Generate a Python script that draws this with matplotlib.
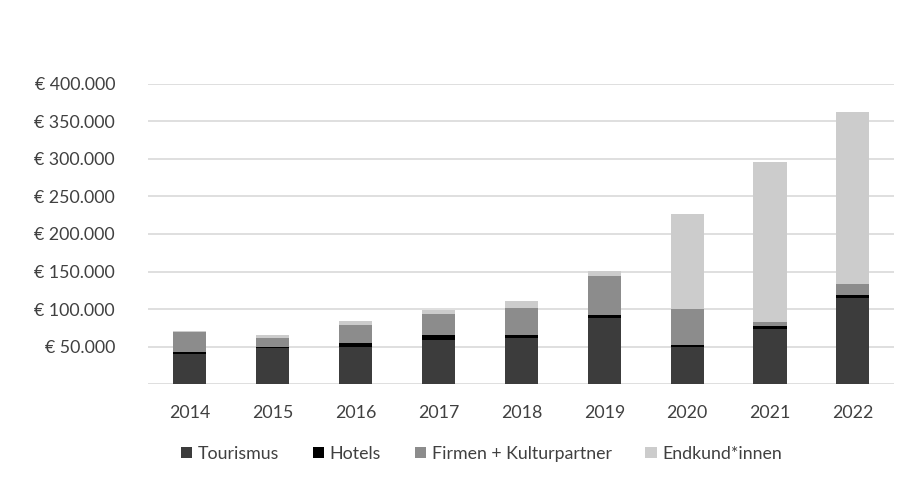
import numpy as np
import matplotlib.pyplot as plt
from matplotlib.ticker import FuncFormatter

# Data
years = ["2014", "2015", "2016", "2017", "2018", "2019", "2020", "2021", "2022"]
tourismus = [39700, 47700, 49000, 59300, 61100, 87700, 49100, 74000, 115300]
hotels = [3600, 2200, 5300, 5700, 3600, 4900, 3100, 3100, 3600]
firmen = [25700, 12000, 24900, 28500, 37300, 52000, 48000, 6200, 14200]
endkunden = [1300, 3600, 5300, 5300, 9300, 6700, 126700, 213300, 229300]

series = [
    ("Tourismus", tourismus, "#3c3c3c"),
    ("Hotels", hotels, "#000000"),
    ("Firmen + Kulturpartner", firmen, "#8c8c8c"),
    ("Endkund*innen", endkunden, "#cccccc"),
]

plt.rcParams['font.family'] = ['Lato', 'DejaVu Sans']
text_color = "#404040"

fig = plt.figure(figsize=(9.22, 4.9), dpi=100)
ax = fig.add_axes([0.161, 0.2163, 0.809, 0.6123])

x = np.arange(len(years))
bottom = np.zeros(len(years))
for label, vals, color in series:
    ax.bar(x, vals, width=0.4, bottom=bottom, color=color, label=label, zorder=3)
    bottom += np.array(vals)

ax.set_xlim(-0.5, len(years) - 0.5)
ax.set_ylim(0, 400000)
ax.set_yticks(np.arange(0, 400001, 50000))
ax.yaxis.set_major_formatter(FuncFormatter(
    lambda v, p: "" if v == 0 else "€ " + f"{int(v):,}".replace(",", ".")))
ax.set_xticks(x)
ax.set_xticklabels(years)

ax.grid(axis='y', color="#d9d9d9", linewidth=1.2, zorder=0)
for s in ax.spines.values():
    s.set_visible(False)
ax.tick_params(axis='both', length=0, labelsize=12.8, colors=text_color)
ax.tick_params(axis='x', pad=15)
ax.tick_params(axis='y', pad=24)

leg = fig.legend(loc='center', bbox_to_anchor=(0.522, 0.074), ncol=4, frameon=False,
                 fontsize=12.8, handlelength=0.65, handleheight=0.65,
                 handletextpad=0.3, columnspacing=1.9)
for t in leg.get_texts():
    t.set_color(text_color)

fig.savefig("out.png", dpi=100)
